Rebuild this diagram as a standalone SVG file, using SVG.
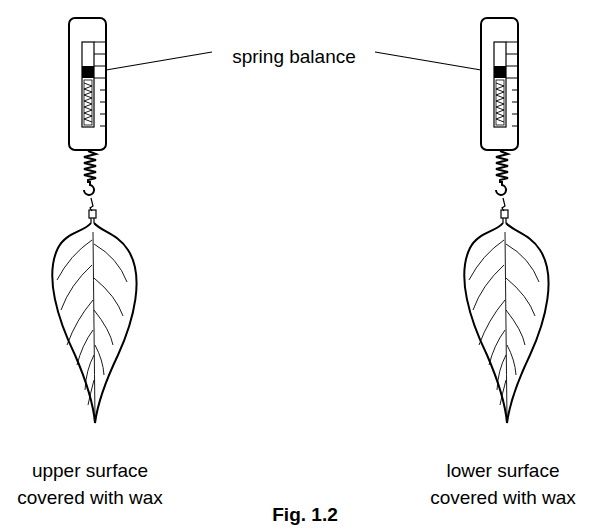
<svg xmlns="http://www.w3.org/2000/svg" width="609" height="532" viewBox="0 0 609 532">
<style>
.s{fill:none;stroke:#000;stroke-width:2}
.t{fill:none;stroke:#000;stroke-width:1.2}
.v{fill:none;stroke:#000;stroke-width:0.9}
text{font-family:"Liberation Sans",Arial,sans-serif;font-size:19px;fill:#000;text-anchor:middle}
</style>
<defs>
<g id="unit">
<rect x="69" y="18" width="37" height="132" rx="6" class="s"/>
<rect x="82" y="42" width="12" height="85" class="t"/>
<rect x="82" y="66" width="12" height="12" fill="#000"/>
<rect x="84" y="80" width="8" height="45" fill="none" stroke="#000" stroke-width="0.8"/>
<path d="M84,83 l8,3 l-8,3 l8,3 l-8,3 l8,3 l-8,3 l8,3 l-8,3 l8,3 l-8,3 l8,3 l-8,3 l8,3" class="v"/>
<path d="M94,42h11M94,54h11M94,66h11M94,78h11M100,90h5M100,102h5M100,114h5M100,126h5" class="t"/>
<path d="M88,151 l8,3 l-12,3 l12,3 l-12,3 l12,3 l-12,3 l12,3 l-12,3 l12,3 l-8,2 v3" class="s"/>
<path d="M90,181 v4 a5,5 0 1 1 -6,5" class="s"/>
<path d="M91,198 l2,8 l-3,2 l2,3" class="t"/>
<rect x="89" y="210" width="7" height="8" class="t"/>
<path d="M91,218 v5 M94,218 v5" class="t"/>
<path d="M91,223 C84,232 66,232 58,248 C44,276 58,320 75,355 C85,378 93,400 95,423 C98,400 107,378 118,355 C134,320 145,276 128,250 C118,234 102,232 94,223" class="s"/>
<path d="M93,232 Q94,330 95,420" class="v"/>
<path d="M92,240 Q70,255 57,280 M92,265 Q70,285 61,310 M93,300 Q76,320 67,345 M93,330 Q82,345 77,365 M94,355 Q86,370 85,390 M94,380 Q90,395 88,405" class="v"/>
<path d="M94,244 Q118,258 127,282 M94,278 Q116,296 123,316 M94,310 Q110,330 113,345 M95,345 Q103,360 104,375" class="v"/>
</g>
</defs>
<g id="left-balance"><use href="#unit"/></g>
<g id="right-balance"><use href="#unit" transform="translate(412,0)"/></g>
<g id="connectors">
<path d="M106,70 L212,52 M375,52 L481,70" class="t"/>
</g>
<g id="labels">
<text x="294" y="63">spring balance</text>
<text x="90" y="477">upper surface</text>
<text x="90" y="504">covered with wax</text>
<text x="503" y="477">lower surface</text>
<text x="503" y="504">covered with wax</text>
<text x="305" y="521" font-weight="bold" font-size="18">Fig. 1.2</text>
</g>
</svg>
